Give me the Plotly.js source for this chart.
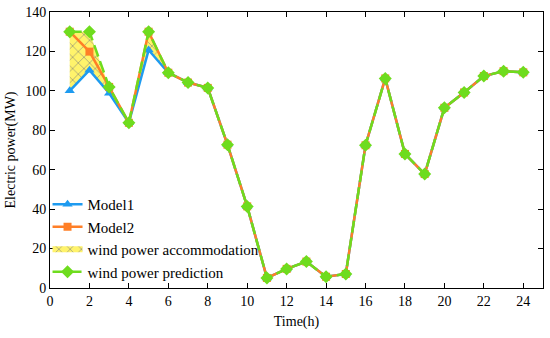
<!DOCTYPE html>
<html><head><meta charset="utf-8">
<script src="https://cdn.plot.ly/plotly-3.0.1.min.js"></script>
<style>html,body{margin:0;padding:0;background:#fff}</style>
</head><body><div id="chart" style="width:550px;height:338px"></div>
<script>
const hours = [1,2,3,4,5,6,7,8,9,10,11,12,13,14,15,16,17,18,19,20,21,22,23,24];
const model1 = [100,110.5,98.8,83.8,120.7,109.2,104.2,101.5,72.7,41.4,5.1,9.7,13.4,5.7,7.1,72.4,106.3,68,57.8,91.4,99.2,107.5,110,109.4];
const model2 = [130,119.9,102,83.8,130,109.2,104.2,101.5,72.7,41.4,5.1,9.7,13.4,5.7,7.1,72.4,106.3,68,57.8,91.4,99.2,107.5,110,109.4];
const prediction = [130,130,101.9,83.8,130,109.2,104.2,101.5,72.7,41.4,5.1,9.7,13.4,5.7,7.1,72.4,106.3,68,57.8,91.4,99.2,107.5,110,109.4];
const xTicks = [0,2,4,6,8,10,12,14,16,18,20,22,24];
const yTicks = [0,20,40,60,80,100,120,140];

const blue = '#1E9BF0', orange = '#FF7F27', green = '#6EDC1E';
const font = 'Liberation Serif, Times New Roman, serif';

const data = [
  {x: hours, y: model1, mode: 'lines', line: {width: 0, color: 'rgba(0,0,0,0)'}, showlegend: false, hoverinfo: 'skip'},
  {x: hours, y: prediction, mode: 'none', fill: 'tonexty', name: 'wind power accommodation', legendrank: 3,
   fillcolor: '#FFF36B', fillpattern: {shape: 'x', bgcolor: '#FFF36B', fgcolor: '#8A8A7A', size: 8, solidity: 0.15}},
  {x: hours, y: model1, mode: 'lines+markers', name: 'Model1', legendrank: 1,
   line: {color: blue, width: 2.5}, marker: {symbol: 'triangle-up', size: 9, color: blue}},
  {x: hours, y: model2, mode: 'lines+markers', name: 'Model2', legendrank: 2,
   line: {color: orange, width: 2.5}, marker: {symbol: 'square', size: 8, color: orange}},
  {x: hours, y: prediction, mode: 'lines+markers', name: 'wind power prediction', legendrank: 4,
   line: {color: green, width: 2.5, dash: '12px,5px'}, marker: {symbol: 'diamond', size: 10, color: green}}
];

const layout = {
  width: 550, height: 338,
  margin: {l: 50, r: 7, t: 12, b: 50},
  paper_bgcolor: '#fff', plot_bgcolor: '#fff',
  font: {family: font, size: 14, color: '#000'},
  showlegend: true,
  legend: {x: -0.005, y: 0, xanchor: 'left', yanchor: 'bottom', bgcolor: 'rgba(0,0,0,0)', traceorder: 'normal',
           font: {family: font, size: 15}, tracegroupgap: 0, itemwidth: 30},
  xaxis: {range: [0, 25], tickvals: xTicks, ticks: 'inside', ticklen: 5, showgrid: false, zeroline: false,
          showline: true, linecolor: '#000', linewidth: 1, mirror: 'allticks', tickcolor: '#000',
          tickfont: {family: font, size: 14},
          title: {text: 'Time(h)', font: {family: font, size: 14}, standoff: 8}},
  yaxis: {range: [0, 140], tickvals: yTicks, ticks: 'inside', ticklen: 5, showgrid: false, zeroline: false,
          showline: true, linecolor: '#000', linewidth: 1, mirror: 'allticks', tickcolor: '#000',
          tickfont: {family: font, size: 14},
          title: {text: 'Electric power(MW)', font: {family: font, size: 14}, standoff: 6}}
};
Plotly.newPlot('chart', data, layout, {displayModeBar: false, staticPlot: true});
</script></body></html>
